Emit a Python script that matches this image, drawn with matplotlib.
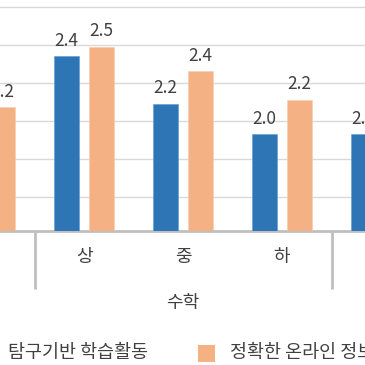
import matplotlib
matplotlib.use('Agg')
import matplotlib.pyplot as plt
import numpy as np
from matplotlib.patches import Rectangle

plt.rcParams['font.family'] = ['Noto Sans CJK KR', 'DejaVu Sans']

# visible portion of the chart
levels = ['하', '상', '중', '하', '상']
subject = '수학'
subject_first, subject_last = 1, 3
inquiry = [np.nan, 2.44, 2.19, 2.03, 2.03]
online = [2.17, 2.49, 2.36, 2.21, np.nan]
series_names = ['탐구기반 학습활동', '정확한 온라인 정보 탐색']

BLUE = '#2E75B6'
ORANGE = '#F4B183'
TXT = '#404040'
W, H = 365, 365

fig = plt.figure(figsize=(W / 100, H / 100), dpi=100)

def fx(px):
    return px / W

def fy(py):
    return 1 - py / H

ax_bottom_px = 231
ax = fig.add_axes([0, fy(ax_bottom_px), 1, ax_bottom_px / H])

x = np.arange(len(levels))
bw = 0.253
off = 0.177
ax.bar(x - off, inquiry, bw, color=BLUE, edgecolor='#5B9BD5', linewidth=0.4, zorder=3)
ax.bar(x + off, online, bw, color=ORANGE, edgecolor='#F8CBAD', linewidth=0.4, zorder=3)

for xi, v in zip(x - off, inquiry):
    if not np.isnan(v):
        ax.annotate(f'{v:.1f}', (xi, v), xytext=(0, 7.5), textcoords='offset points',
                    ha='center', va='baseline', fontsize=12.5, color=TXT, zorder=4)
for xi, v in zip(x + off, online):
    if not np.isnan(v):
        ax.annotate(f'{v:.1f}', (xi, v), xytext=(0, 7.5), textcoords='offset points',
                    ha='center', va='baseline', fontsize=12.5, color=TXT, zorder=4)

px_per_cat = 99.0
center_px = 84.0
ax.set_xlim(1 - center_px / px_per_cat, 1 + (W - center_px) / px_per_cat)
ax.set_ylim(1.518, 2.7 + 7 / 189.5)
ax.set_yticks(np.arange(1.7, 2.71, 0.2))
ax.yaxis.grid(True, color='#D9D9D9', linewidth=1.0, zorder=0)
ax.set_xticks([])
ax.tick_params(left=False, labelleft=False)
for s in ['top', 'right', 'left']:
    ax.spines[s].set_visible(False)
ax.spines['bottom'].set_color('#BFBFBF')
ax.spines['bottom'].set_linewidth(2.0)

trans = ax.get_xaxis_transform()
for xi, lab in zip(x, levels):
    ax.text(xi, -0.112, lab, transform=trans, ha='center', va='center',
            fontsize=13, color=TXT, clip_on=False)
# group separators
for sx in [subject_first - 0.5, subject_last + 0.5]:
    ax.plot([sx, sx], [0, -0.251], transform=trans, color='#BFBFBF',
            linewidth=2.0, clip_on=False, solid_capstyle='butt')
ax.text((subject_first + subject_last) / 2, -0.31, subject, transform=trans,
        ha='center', va='center', fontsize=13, color=TXT, clip_on=False)

# legend
leg_y = 353
sq = 17
for (sqx, tx), name, col in zip([(-24, 8), (198, 230)], series_names, [BLUE, ORANGE]):
    fig.patches.append(Rectangle((fx(sqx), fy(leg_y + sq / 2)), sq / W, sq / H,
                                 transform=fig.transFigure, facecolor=col,
                                 edgecolor='none'))
    fig.text(fx(tx), fy(leg_y), name, ha='left', va='center', fontsize=13.3, color=TXT)

fig.savefig('out.png', dpi=100)
